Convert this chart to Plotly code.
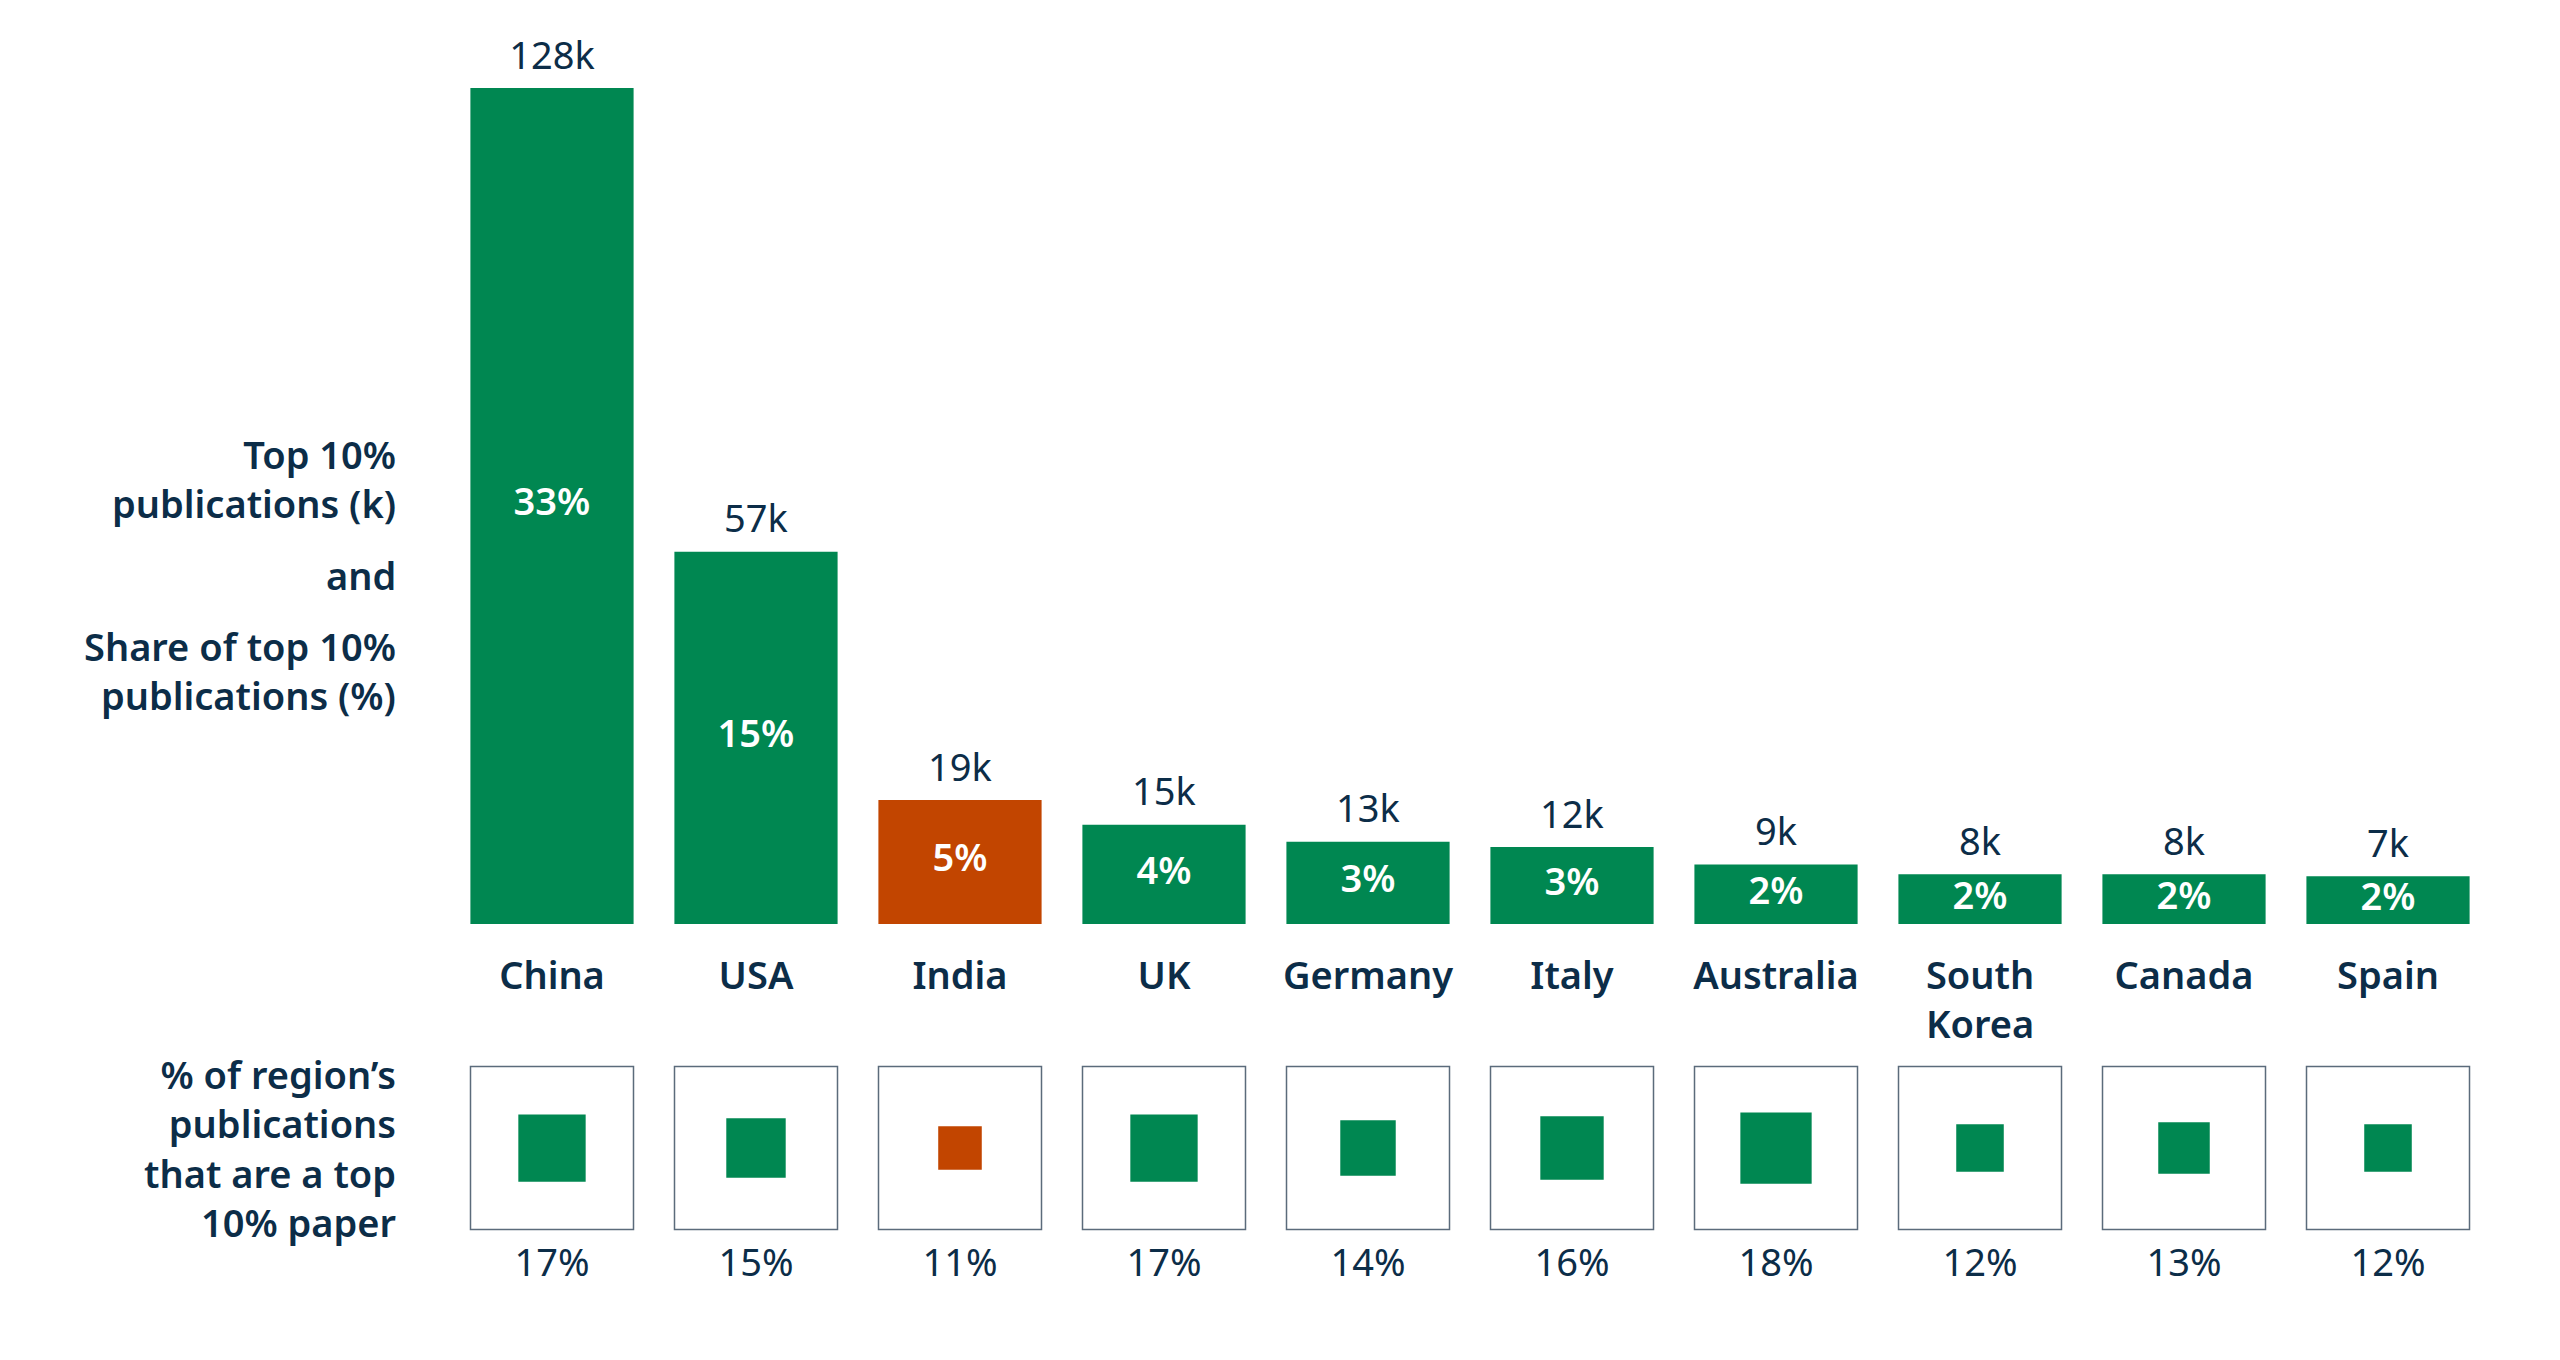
import plotly.graph_objects as go

countries = ["China", "USA", "India", "UK", "Germany", "Italy", "Australia", "South Korea", "Canada", "Spain"]
country_ticks = ["China", "USA", "India", "UK", "Germany", "Italy", "Australia", "South<br>Korea", "Canada", "Spain"]
top10_pubs_k = [128, 57, 19, 15.2, 12.6, 11.8, 9.1, 7.6, 7.6, 7.3]
top10_labels = ["128k", "57k", "19k", "15k", "13k", "12k", "9k", "8k", "8k", "7k"]
share_pct = [33, 15, 5, 4, 3, 3, 2, 2, 2, 2]
region_pct = [17, 15, 11, 17, 14, 16, 18, 12, 13, 12]
highlight = ["India"]

GREEN = "#008751"
ORANGE = "#C24500"
NAVY = "#0c2d48"
OUTLINE = "#5b6b7b"
FONT = "Noto Sans"
FS = 38

colors = [ORANGE if c in highlight else GREEN for c in countries]
idx = list(range(len(countries)))

BOX_PX = 163
inner_sizes = [BOX_PX * 0.0243 * p for p in region_pct]

# page body has an 8px margin; compensate
DX = 8 / 2560
DY = 8 / 1360

# label offset above bars, in axis units
LABEL_PAD = 4.4

# main axis: 0 at 916px, 128 at 80px from top -> extend range to 136 keeping scale
Y_BOTTOM = 0.3206 + DY
Y_MAX = 136
Y_TOP = 1 - (916.0 - Y_MAX * (836.0 / 128)) / 1360

fig = go.Figure()

fig.add_trace(go.Bar(
    x=idx, y=top10_pubs_k, marker=dict(color=colors, line=dict(width=0)),
    cliponaxis=False, hoverinfo="skip", showlegend=False,
))

fig.add_trace(go.Scatter(
    x=idx, y=[v + LABEL_PAD for v in top10_pubs_k], mode="text",
    text=top10_labels, textposition="middle center",
    textfont=dict(family=FONT, size=FS, color=NAVY),
    cliponaxis=False, hoverinfo="skip", showlegend=False,
))

fig.add_trace(go.Scatter(
    x=idx, y=[v / 2 for v in top10_pubs_k], mode="text",
    text=[f"{s}%" for s in share_pct], textposition="middle center",
    textfont=dict(family=FONT, size=FS, color="white", weight=600),
    cliponaxis=False, hoverinfo="skip", showlegend=False,
))

BOX_Y = 0.572
LABEL_Y = 0.177

fig.add_trace(go.Scatter(
    x=idx, y=[BOX_Y] * len(idx), xaxis="x", yaxis="y2", mode="markers",
    marker=dict(symbol="square-open", size=BOX_PX, color=OUTLINE, opacity=1,
                line=dict(width=1.5, color=OUTLINE)),
    cliponaxis=False, hoverinfo="skip", showlegend=False,
))
fig.add_trace(go.Scatter(
    x=idx, y=[BOX_Y] * len(idx), xaxis="x", yaxis="y2", mode="markers",
    marker=dict(symbol="square", size=inner_sizes, color=colors, opacity=1, line=dict(width=0)),
    cliponaxis=False, hoverinfo="skip", showlegend=False,
))
fig.add_trace(go.Scatter(
    x=idx, y=[LABEL_Y] * len(idx), xaxis="x", yaxis="y2", mode="text",
    text=[f"{p}%" for p in region_pct], textposition="middle center",
    textfont=dict(family=FONT, size=FS, color=NAVY),
    cliponaxis=False, hoverinfo="skip", showlegend=False,
))

ann_font = dict(family=FONT, size=FS, color=NAVY, weight=600)
AX = 0.1543 - 5 / 2560
annotations = [
    dict(text="Top 10%<br>publications (k)", x=AX, y=0.6478 + DY),
    dict(text="and", x=AX, y=0.5772 + DY),
    dict(text="Share of top 10%<br>publications (%)", x=AX, y=0.5072 + DY),
    dict(text="% of region’s<br>publications<br>that are a top<br>10% paper", x=AX, y=0.1559 + DY),
]
for a in annotations:
    a.update(xref="paper", yref="paper", xanchor="right", yanchor="middle", align="right",
             showarrow=False, font=ann_font)

fig.update_layout(
    width=2560, height=1360,
    margin=dict(l=0, r=0, t=0, b=0),
    paper_bgcolor="white", plot_bgcolor="white",
    bargap=0.2,
    annotations=annotations,
    xaxis=dict(domain=[0.17578 - DX, 0.97266 - DX], range=[-0.5, 9.5], tickmode="array",
               tickvals=idx, ticktext=country_ticks, showgrid=False, zeroline=False,
               showline=False, ticks="", ticklabelstandoff=26,
               tickfont=dict(family=FONT, size=FS, color=NAVY, weight=600), anchor="y"),
    yaxis=dict(domain=[Y_BOTTOM, Y_TOP], range=[0, Y_MAX], visible=False,
               showgrid=False, zeroline=False),
    yaxis2=dict(domain=[0.03 + DY, 0.25 + DY], range=[0, 1], visible=False,
                showgrid=False, zeroline=False, anchor="x"),
)

fig.write_html("out.html")
